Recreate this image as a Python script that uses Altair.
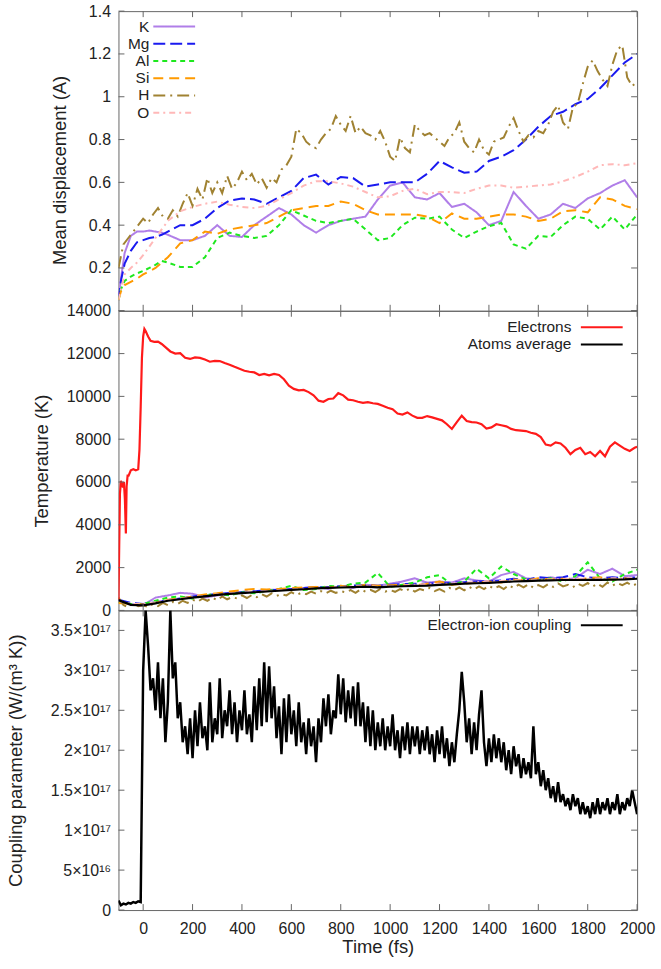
import altair as alt
import pandas as pd

FONT = "Liberation Sans"
FRAME = "#666666"
TEXT = "#222222"
W, H = 521, 301
TICK = 6

SPECIES = ["K", "Mg", "Al", "Si", "H", "O"]
COLORS = ["#b07ee8", "#1a1af0", "#1ee81e", "#ff9a00", "#a08232", "#ffb8b8"]
DASHES = [[1, 0], [12, 5], [5, 4], [10, 6], [12, 5, 2, 5], [6, 4, 2, 4]]

X_TICKS = list(range(0, 2001, 200))

# ---------------- top panel: mean displacement ----------------
T_TOP = [-100, -90, -75, -50, -25, 0, 25, 50, 75, 100] + list(range(150, 2001, 50))
DISP_K = [0.05, 0.15, 0.27, 0.35, 0.37, 0.37, 0.375, 0.37, 0.365, 0.355,
          0.33, 0.33, 0.35, 0.40, 0.35, 0.345, 0.40, 0.44, 0.48, 0.45,
          0.40, 0.365, 0.40, 0.42, 0.43, 0.44, 0.52, 0.585, 0.60, 0.53,
          0.52, 0.55, 0.485, 0.50, 0.46, 0.40, 0.42, 0.555, 0.49, 0.43,
          0.45, 0.50, 0.48, 0.525, 0.55, 0.585, 0.61, 0.53]
DISP_MG = [0.05, 0.14, 0.22, 0.28, 0.32, 0.33, 0.34, 0.345, 0.355, 0.37,
           0.40, 0.40, 0.43, 0.48, 0.515, 0.525, 0.52, 0.50, 0.53, 0.56,
           0.62, 0.636, 0.59, 0.625, 0.62, 0.58, 0.59, 0.60, 0.60, 0.60,
           0.64, 0.70, 0.67, 0.645, 0.65, 0.70, 0.72, 0.75, 0.80, 0.86,
           0.91, 0.93, 0.965, 0.99, 1.04, 1.10, 1.16, 1.20]
DISP_AL = [0.05, 0.10, 0.14, 0.16, 0.175, 0.186, 0.20, 0.215, 0.233, 0.225,
           0.205, 0.205, 0.25, 0.34, 0.365, 0.35, 0.34, 0.35, 0.40, 0.47,
           0.445, 0.42, 0.41, 0.42, 0.43, 0.38, 0.33, 0.34, 0.40, 0.435,
           0.43, 0.44, 0.38, 0.34, 0.37, 0.395, 0.41, 0.31, 0.29, 0.35,
           0.345, 0.40, 0.44, 0.43, 0.38, 0.44, 0.38, 0.45]
DISP_SI = [0.05, 0.09, 0.12, 0.135, 0.15, 0.17, 0.185, 0.20, 0.225, 0.25,
           0.315, 0.33, 0.37, 0.36, 0.38, 0.39, 0.40, 0.41, 0.44, 0.47,
           0.48, 0.49, 0.49, 0.51, 0.50, 0.47, 0.45, 0.45, 0.45, 0.45,
           0.44, 0.41, 0.455, 0.43, 0.43, 0.44, 0.45, 0.45, 0.44, 0.42,
           0.43, 0.465, 0.47, 0.46, 0.53, 0.52, 0.49, 0.475]
DISP_O = [0.05, 0.10, 0.17, 0.20, 0.225, 0.26, 0.30, 0.34, 0.38, 0.42,
          0.465, 0.485, 0.50, 0.51, 0.495, 0.485, 0.48, 0.49, 0.52, 0.55,
          0.585, 0.605, 0.605, 0.595, 0.58, 0.555, 0.53, 0.535, 0.56, 0.57,
          0.545, 0.555, 0.555, 0.55, 0.57, 0.585, 0.585, 0.575, 0.58, 0.585,
          0.59, 0.605, 0.625, 0.65, 0.68, 0.685, 0.68, 0.69]
T_H = list(range(-100, 2001, 20))
DISP_H = [0.20, 0.31, 0.34, 0.37, 0.40, 0.43, 0.41, 0.45, 0.48, 0.44,
          0.43, 0.47, 0.44, 0.50, 0.55, 0.49, 0.57, 0.52, 0.62, 0.55,
          0.60, 0.55, 0.63, 0.57, 0.60, 0.65, 0.61, 0.64, 0.59, 0.62,
          0.575, 0.62, 0.60, 0.66, 0.68, 0.72, 0.85, 0.83, 0.79, 0.77,
          0.76, 0.80, 0.83, 0.85, 0.91, 0.87, 0.84, 0.91, 0.83, 0.86,
          0.83, 0.82, 0.80, 0.84, 0.79, 0.72, 0.70, 0.81, 0.76, 0.74,
          0.87, 0.84, 0.82, 0.83, 0.81, 0.79, 0.77, 0.81, 0.83, 0.88,
          0.79, 0.76, 0.74, 0.80, 0.75, 0.73, 0.79, 0.80, 0.81, 0.86,
          0.90, 0.84, 0.79, 0.82, 0.81, 0.84, 0.83, 0.87, 0.93, 0.96,
          0.88, 0.85, 0.95, 0.97, 1.06, 1.14, 1.17, 1.12, 1.08, 1.05,
          1.15, 1.22, 1.24, 1.09, 1.05, 1.07]
DISP_TICKS = [0.2, 0.4, 0.6, 0.8, 1.0, 1.2, 1.4]
DISP_TICK_MARKS = [0.0, 0.2, 0.4, 0.6, 0.8, 1.0, 1.2, 1.4]

# ---------------- middle panel: temperature ----------------
T_ELEC = [-100, -97, -94, -90, -86, -82, -78, -74, -70, -67, -63, -59, -50, -40, -30,
          -20, -15, -10, -5, 0, 5, 10, 20, 30, 45, 60, 75, 90] + list(range(110, 2000, 20)) + [2000]
TEMP_ELEC = [500, 3000, 5450, 6050, 5900, 5750, 6000, 5200, 3600, 5800, 6300, 6300, 6550, 6600, 6550,
             6600, 7500, 9500, 11800, 12800, 13150, 13050, 12800, 12600, 12550, 12560, 12450, 12300,
             12100, 12000, 12020, 11800, 11750, 11820, 11800, 11720, 11620, 11660,
             11650, 11560, 11480, 11380, 11290, 11200, 11150, 11120, 11000, 11050,
             10980, 11050, 11000, 10800, 10500, 10350, 10280, 10300, 10200, 10050,
             9800, 9750, 9880, 9900, 10150, 10050, 9850, 9820, 9750, 9700,
             9730, 9680, 9650, 9560, 9470, 9400, 9200, 9150, 9250, 9100,
             9000, 9000, 9080, 9020, 8950, 8880, 8700, 8480, 8800, 9100,
             8850, 8800, 8780, 8700, 8500, 8550, 8700, 8650, 8600, 8480,
             8420, 8400, 8380, 8300, 8250, 8100, 7750, 7700, 7850, 7800,
             7600, 7300, 7500, 7600, 7300, 7400, 7200, 7450, 7200, 7650,
             7850, 7700, 7550, 7450, 7600, 7650]

T_MID = list(range(-100, 2001, 50))
TEMP_AVG = [480, 260, 240, 330, 450, 520, 600, 660, 730, 770, 810, 850, 885,
            920, 960, 990, 1030, 1050, 1070, 1090, 1110, 1080, 1110,
            1130, 1150, 1160, 1190, 1220, 1250, 1270, 1290, 1320, 1350,
            1370, 1390, 1400, 1420, 1420, 1430, 1430, 1440, 1450, 1480]
TEMP_K = [450, 300, 250, 600, 700, 820, 780, 600, 700, 780, 820, 850, 950,
          980, 1000, 1050, 1100, 1000, 1150, 1050, 1200, 1150, 1250,
          1350, 1500, 1300, 1350, 1300, 1500, 1400, 1350, 1650, 1800,
          1500, 1450, 1550, 1450, 1500, 1900, 1700, 1950, 1600, 1650]
TEMP_MG = [500, 350, 300, 380, 480, 560, 650, 700, 770, 820, 860, 900, 940,
           970, 1000, 1050, 1080, 1100, 1130, 1160, 1180, 1150, 1200,
           1230, 1250, 1250, 1280, 1300, 1320, 1350, 1380, 1400, 1480,
           1420, 1550, 1500, 1550, 1700, 1550, 1500, 1550, 1500, 1550]
TEMP_AL = [400, 300, 300, 450, 600, 650, 550, 700, 780, 700, 850, 800, 900,
           1000, 1150, 950, 1000, 1150, 1100, 1250, 1300, 1750, 1100,
           1200, 1300, 1550, 1650, 1200, 1350, 1950, 1500, 2050, 1700,
           1450, 1400, 1500, 1350, 1600, 2250, 1500, 1350, 1700, 1900]
TEMP_SI = [350, 300, 280, 350, 500, 550, 650, 750, 800, 880, 950, 1000, 980,
           1000, 1050, 1080, 1100, 1050, 1150, 1080, 1200, 1150, 1180,
           1200, 1150, 1250, 1350, 1200, 1250, 1300, 1350, 1300, 1450,
           1400, 1500, 1450, 1480, 1420, 1500, 1550, 1450, 1500, 1450]
TEMP_O = [450, 300, 280, 380, 470, 540, 620, 680, 750, 800, 830, 870, 900,
          940, 980, 1010, 1030, 1060, 1100, 1120, 1150, 1100, 1130,
          1160, 1200, 1220, 1250, 1250, 1300, 1320, 1350, 1380, 1400,
          1420, 1430, 1450, 1460, 1470, 1480, 1490, 1500, 1500, 1520]
TEMP_H = [600, 250, 150, 350, 200, 250, 150, 300, 200, 350,
          250, 400, 300, 450, 350, 500, 400, 550, 450, 600,
          480, 650, 520, 620, 560, 700, 580, 720, 620, 760,
          650, 800, 680, 760, 700, 850, 720, 820, 760, 880,
          780, 900, 800, 920, 820, 900, 850, 950, 820, 980,
          880, 960, 860, 1000, 880, 950, 870, 1000, 900, 1020,
          880, 1000, 930, 1050, 900, 1000, 880, 1050, 950, 1080,
          940, 1100, 980, 1120, 1000, 1150, 1020, 1130, 1000, 1180,
          1050, 1200, 1080, 1220, 1060, 1180, 1080, 1230, 1100, 1260,
          1120, 1200, 1080, 1250, 1150, 1280, 1120, 1250, 1100, 1300,
          1150, 1280, 1180, 1300, 1150, 1250]
TEMP_TICKS = list(range(0, 14001, 2000))

# ---------------- bottom panel: coupling (units of 1e17 W/(m^3 K)) ----------------
T_G = list(range(-100, 2001, 10))
COUPLING = [0.12, 0.06, 0.08, 0.07, 0.09, 0.08, 0.10, 0.09, 0.11, 0.10,
            3.0, 3.75, 3.3, 2.75, 2.9, 2.5, 3.1, 2.4, 2.9, 2.1,
            2.6, 3.75, 2.9, 3.1, 2.4, 2.6, 2.1, 2.3, 1.95, 2.4,
            1.9, 2.5, 2.05, 2.6, 2.15, 2.3, 2.0, 2.85, 2.1, 2.4,
            2.2, 2.9, 2.15, 2.5, 2.3, 2.75, 2.2, 2.6, 2.1, 2.5,
            2.25, 2.75, 2.2, 2.45, 2.1, 2.8, 2.25, 2.9, 2.3, 3.1,
            2.35, 3.05, 2.4, 2.8, 2.15, 2.55, 1.95, 2.65, 2.1, 2.7,
            2.2, 2.5, 2.05, 2.6, 2.1, 2.35, 1.95, 2.4, 2.05, 2.3,
            1.85, 2.4, 2.1, 2.65, 2.3, 2.7, 2.2, 2.5, 2.4, 2.95,
            2.45, 2.9, 2.35, 2.75, 2.4, 2.8, 2.3, 2.85, 2.3, 2.6,
            2.1, 2.55, 2.05, 2.5, 2.0, 2.35, 2.05, 2.4, 2.0, 2.3,
            2.05, 2.45, 2.0, 2.25, 1.9, 2.3, 2.0, 2.35, 1.95, 2.3,
            2.05, 2.3, 1.95, 2.25, 2.0, 2.3, 1.95, 2.2, 1.85, 2.25,
            1.95, 2.3, 1.9, 2.15, 1.8, 2.1, 1.85, 2.2, 2.5, 2.98,
            2.6, 2.1, 2.4, 1.95, 2.35, 2.0, 2.45, 2.75, 2.1, 1.8,
            2.15, 1.85, 2.2, 1.9, 2.15, 1.85, 2.1, 1.75, 2.0, 1.7,
            2.05, 1.8, 1.95, 1.65, 1.9, 1.7, 1.85, 1.65, 2.3, 1.7,
            1.85, 1.55, 1.75, 1.5, 1.65, 1.4, 1.55, 1.35, 1.6, 1.35,
            1.45, 1.3, 1.4, 1.25, 1.45, 1.3, 1.4, 1.2, 1.35, 1.2,
            1.3, 1.15, 1.35, 1.2, 1.4, 1.2, 1.35, 1.25, 1.4, 1.2,
            1.35, 1.25, 1.45, 1.2, 1.35, 1.25, 1.4, 1.3, 1.5, 1.35,
            1.2]
G_TICKS = [0, 0.5, 1.0, 1.5, 2.0, 2.5, 3.0, 3.5]
G_LABELS = ["0", "5×10¹⁶", "1×10¹⁷", "1.5×10¹⁷", "2×10¹⁷", "2.5×10¹⁷", "3×10¹⁷", "3.5×10¹⁷"]

# ---------------- data frames ----------------
def long_frame(times_list, values_list, names, vname):
    rows = []
    for ts, vs, n in zip(times_list, values_list, names):
        for t, v in zip(ts, vs):
            rows.append({"time": t, vname: v, "species": n})
    return pd.DataFrame(rows)

top_df = long_frame([T_TOP, T_TOP, T_TOP, T_TOP, T_H, T_TOP],
                    [DISP_K, DISP_MG, DISP_AL, DISP_SI, DISP_H, DISP_O], SPECIES, "disp")
mid_species_df = long_frame([T_MID, T_MID, T_MID, T_MID, T_H, T_MID],
                            [TEMP_K, TEMP_MG, TEMP_AL, TEMP_SI, TEMP_H, TEMP_O], SPECIES, "temp")
mid_main_df = pd.concat([
    pd.DataFrame({"time": T_ELEC, "temp": TEMP_ELEC, "series": "Electrons"}),
    pd.DataFrame({"time": T_MID, "temp": TEMP_AVG, "series": "Atoms average"}),
])
g_df = pd.DataFrame({"time": T_G, "g": COUPLING, "series": "Electron-ion coupling"})

xscale = alt.Scale(domain=[-100, 2000], nice=False, zero=False)

# legend sample: a horizontal line, 42 px long (custom path scaled by sqrt(symbolSize)/2 = 7.5)
SAMPLE_PATH = "M-2.8,0H2.8"


def legend(x, y, offset):
    return alt.Legend(title=None, orient="none", legendX=x, legendY=y, direction="vertical",
                      symbolType=SAMPLE_PATH, symbolSize=225, symbolStrokeWidth=2,
                      symbolFillColor="transparent",
                      labelAlign="right", labelOffset={"expr": str(offset)}, labelFont=FONT,
                      labelFontSize=15.5, labelColor=TEXT, rowPadding=0.3, padding=0,
                      labelLimit=400)


def frame_ticks(yscale, y_tick_values, x_axis, y_axis):
    xt = pd.DataFrame({"time": X_TICKS})
    yt = pd.DataFrame({"v": y_tick_values})
    base_x = alt.Chart(xt).mark_rule(color=FRAME, strokeWidth=1)
    base_y = alt.Chart(yt).mark_rule(color=FRAME, strokeWidth=1)
    xx = alt.X("time:Q", scale=xscale, axis=x_axis)
    yy = alt.Y("v:Q", scale=yscale, axis=y_axis)
    return [
        base_x.encode(x=xx, y=alt.value(0), y2=alt.value(TICK)),
        base_x.encode(x=xx, y=alt.value(H - TICK), y2=alt.value(H)),
        base_y.encode(y=yy, x=alt.value(0), x2=alt.value(TICK)),
        base_y.encode(y=yy, x=alt.value(W - TICK), x2=alt.value(W)),
    ]


hidden_x = alt.Axis(labels=False, ticks=False, domain=False, title=None, grid=False)

# top
top_y = alt.Scale(domain=[0, 1.4], nice=False, zero=False)
top_y_axis = alt.Axis(values=DISP_TICKS, format="~g", ticks=False, tickSize=0, domain=False,
                      grid=False, labelPadding=8, labelFlush=False, title="Mean displacement (A)",
                      titlePadding=19, titleY=159.5)
top_leg = legend(47.5, 7, -33.5)
top_lines = alt.Chart(top_df).mark_line(strokeWidth=2, clip=True).encode(
    x=alt.X("time:Q", scale=xscale, axis=hidden_x),
    y=alt.Y("disp:Q", scale=top_y, axis=top_y_axis),
    color=alt.Color("species:N", scale=alt.Scale(domain=SPECIES, range=COLORS), legend=top_leg),
    strokeDash=alt.StrokeDash("species:N", scale=alt.Scale(domain=SPECIES, range=DASHES), legend=top_leg),
)
top = alt.layer(top_lines, *frame_ticks(top_y, DISP_TICK_MARKS, hidden_x, top_y_axis)).properties(
    width=W, height=H)

# middle
mid_y = alt.Scale(domain=[0, 14000], nice=False, zero=False)
mid_y_axis = alt.Axis(values=TEMP_TICKS, format="d", ticks=False, tickSize=0, domain=False,
                      grid=False, labelPadding=8, labelFlush=False, title="Temperature (K)",
                      titlePadding=15)
mid_species = alt.Chart(mid_species_df).mark_line(strokeWidth=2, clip=True).encode(
    x=alt.X("time:Q", scale=xscale, axis=hidden_x),
    y=alt.Y("temp:Q", scale=mid_y, axis=mid_y_axis),
    color=alt.Color("species:N", scale=alt.Scale(domain=SPECIES, range=COLORS), legend=None),
    strokeDash=alt.StrokeDash("species:N", scale=alt.Scale(domain=SPECIES, range=DASHES), legend=None),
)
mid_leg = legend(477, 8, -39)
mid_main = alt.Chart(mid_main_df).mark_line(strokeWidth=2.2, clip=True).encode(
    x=alt.X("time:Q", scale=xscale, axis=hidden_x),
    y=alt.Y("temp:Q", scale=mid_y, axis=mid_y_axis),
    color=alt.Color("series:N", scale=alt.Scale(domain=["Electrons", "Atoms average"],
                                                range=["#ff1a1a", "#000000"]), legend=mid_leg),
)
mid = alt.layer(mid_species, mid_main, *frame_ticks(mid_y, TEMP_TICKS, hidden_x, mid_y_axis)).resolve_scale(
    color="independent", strokeDash="independent").properties(width=W, height=H)

# bottom
bot_y = alt.Scale(domain=[0, 3.75], nice=False, zero=False)
label_expr = "[" + ",".join("'" + s + "'" for s in G_LABELS) + "][round(datum.value*2)]"
bot_x_axis = alt.Axis(values=X_TICKS, format="d", ticks=False, tickSize=0, domain=False,
                      grid=False, labelPadding=11, labelOverlap=False, labelFlush=False,
                      title="Time (fs)", titlePadding=1)
bot_y_axis = alt.Axis(values=G_TICKS, labelExpr=label_expr, ticks=False, tickSize=0,
                      domain=False, grid=False, labelPadding=8, labelFlush=False,
                      title="Coupling parameter (W/(m³ K))", titlePadding=25)
bot_leg = legend(477, 6.5, -39)
bot_line = alt.Chart(g_df).mark_line(strokeWidth=2.5, clip=True).encode(
    x=alt.X("time:Q", scale=xscale, axis=bot_x_axis),
    y=alt.Y("g:Q", scale=bot_y, axis=bot_y_axis),
    color=alt.Color("series:N", scale=alt.Scale(domain=["Electron-ion coupling"], range=["#000000"]),
                    legend=bot_leg),
)
bot = alt.layer(bot_line, *frame_ticks(bot_y, G_TICKS, bot_x_axis, bot_y_axis)).properties(
    width=W, height=H)

chart = alt.vconcat(top, mid, bot, spacing=0, bounds="flush").resolve_scale(
    color="independent", strokeDash="independent"
).resolve_legend(
    color="independent", strokeDash="independent"
).properties(
    padding={"left": 6, "top": 0, "right": 5, "bottom": 5}, background="white"
).configure_view(stroke=FRAME, strokeWidth=1).configure_axis(
    labelFont=FONT, labelFontSize=16, labelColor=TEXT,
    titleFont=FONT, titleFontSize=18.5, titleFontWeight="normal", titleColor=TEXT,
)

chart.save("out.html", embed_options={"renderer": "svg", "actions": False})
